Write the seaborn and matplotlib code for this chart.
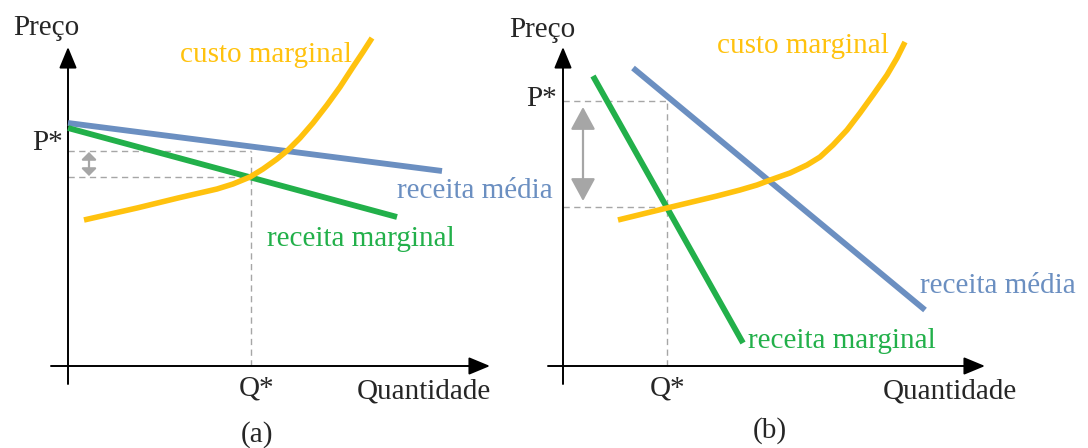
import matplotlib
matplotlib.use("Agg")
import matplotlib.pyplot as plt
import seaborn as sns
import pandas as pd

sns.set_theme(style="white")
plt.rcParams["font.family"] = ["Liberation Serif", "DejaVu Serif"]

# ---- colours ----
BLUE = "#6b8fc1"
GREEN = "#22b04a"
YELLOW = "#ffc20e"
GRAY = "#a6a6a6"

# ---- panel (a): nearly flat demand ----
a_media_q = [0.0, 37.4]
a_media_p = [24.3, 19.5]
a_marg_q = [0.0, 32.9]
a_marg_p = [23.8, 14.9]
a_custo_q = [1.6, 6.9, 11.0, 14.9, 16.5, 18.2, 19.5, 20.9, 22.0, 23.2,
             24.5, 25.9, 27.2, 28.5, 29.5, 30.4]
a_custo_p = [14.6, 15.8, 16.8, 17.7, 18.2, 18.9, 19.7, 20.7, 21.6, 22.8,
             24.3, 26.1, 27.9, 29.9, 31.4, 32.8]
a_qstar = 18.3
a_pstar = 21.5
a_cm_at_q = 18.9

# ---- panel (b): steep demand ----
b_media_q = [7.0, 36.2]
b_media_p = [29.8, 5.6]
b_marg_q = [3.0, 18.0]
b_marg_p = [29.0, 2.3]
b_custo_q = [5.5, 10.4, 15.4, 17.7, 19.4, 21.0, 22.7, 24.4, 25.7, 27.0,
             28.4, 29.7, 31.0, 32.4, 33.4, 34.2]
b_custo_p = [14.6, 15.8, 17.0, 17.6, 18.1, 18.7, 19.3, 20.1, 20.9, 22.1,
             23.6, 25.3, 27.1, 29.1, 30.8, 32.4]
b_qstar = 10.4
b_pstar = 26.5
b_cm_at_q = 15.9

FS = 21

fig = plt.figure(figsize=(10.88, 4.48), dpi=100)
ax_a = fig.add_axes([0.0, 0.0, 0.5, 1.0])
ax_b = fig.add_axes([0.5, 0.0, 0.5, 1.0])
ax_a.set_xlim(-6.8, 47.6)
ax_b.set_xlim(-1.9, 52.5)
for ax in (ax_a, ax_b):
    ax.set_ylim(-8.2, 36.6)
    ax.set_axis_off()


def draw_axes(ax, x0, x1, y0, y1):
    style = "-|>,head_length=0.65,head_width=0.27"
    ax.annotate("", xy=(x1, 0), xytext=(x0, 0),
                arrowprops=dict(arrowstyle=style, color="black", lw=1.4,
                                mutation_scale=20, shrinkA=0, shrinkB=0))
    ax.annotate("", xy=(0, y1), xytext=(0, y0),
                arrowprops=dict(arrowstyle=style, color="black", lw=1.4,
                                mutation_scale=20, shrinkA=0, shrinkB=0))


def guides(ax, q, p_hi, p_lo, xa, ya_hi, ya_lo, head):
    kw = dict(color=GRAY, lw=1.0, ls=(0, (4.5, 3.2)), zorder=1)
    ax.plot([0, q], [p_hi, p_hi], **kw)
    ax.plot([0, q], [p_lo, p_lo], **kw)
    ax.plot([q, q], [0, p_hi], **kw)
    hl, hw = head
    ax.annotate("", xy=(xa, ya_lo), xytext=(xa, ya_hi),
                arrowprops=dict(arrowstyle=f"<|-|>,head_length={hl},head_width={hw}",
                                color=GRAY, lw=1.6, mutation_scale=20,
                                shrinkA=0, shrinkB=0))


def curve(ax, q, p, color, lw=4.2):
    df = pd.DataFrame({"q": q, "p": p})
    sns.lineplot(data=df, x="q", y="p", ax=ax, color=color, lw=lw,
                 sort=False, estimator=None, zorder=3,
                 solid_joinstyle="round", solid_capstyle="butt")


# panel (a)
draw_axes(ax_a, -1.7, 42.2, -1.8, 31.9)
guides(ax_a, a_qstar, a_pstar, a_cm_at_q, 2.1, 21.4, 19.0, (0.22, 0.22))
curve(ax_a, a_media_q, a_media_p, BLUE)
curve(ax_a, a_marg_q, a_marg_p, GREEN)
curve(ax_a, a_custo_q, a_custo_p, YELLOW, lw=4.0)
ax_a.text(-2.2, 33.8, "Preço", fontsize=FS, ha="center", va="center")
ax_a.text(-0.5, 21.6, "P*", fontsize=FS, ha="right", va="baseline")
ax_a.text(11.2, 30.4, "custo marginal", fontsize=FS, color=YELLOW, va="baseline")
ax_a.text(32.9, 16.8, "receita média", fontsize=FS, color=BLUE, va="baseline")
ax_a.text(19.9, 12.0, "receita marginal", fontsize=FS, color=GREEN, va="baseline")
ax_a.text(18.9, -2.9, "Q*", fontsize=FS, ha="center", va="baseline")
ax_a.text(28.9, -3.2, "Quantidade", fontsize=FS, va="baseline")
ax_a.text(18.9, -6.9, "(a)", fontsize=FS, ha="center", va="center")

# panel (b)
draw_axes(ax_b, -1.5, 42.2, -1.8, 31.9)
guides(ax_b, b_qstar, b_pstar, b_cm_at_q, 2.0, 25.9, 16.5, (0.7, 0.38))
curve(ax_b, b_media_q, b_media_p, BLUE)
curve(ax_b, b_marg_q, b_marg_p, GREEN)
curve(ax_b, b_custo_q, b_custo_p, YELLOW, lw=4.0)
ax_b.text(-2.1, 33.6, "Preço", fontsize=FS, ha="center", va="center")
ax_b.text(-0.6, 26.0, "P*", fontsize=FS, ha="right", va="baseline")
ax_b.text(15.4, 31.3, "custo marginal", fontsize=FS, color=YELLOW, va="baseline")
ax_b.text(35.7, 7.3, "receita média", fontsize=FS, color=BLUE, va="baseline")
ax_b.text(18.5, 1.8, "receita marginal", fontsize=FS, color=GREEN, va="baseline")
ax_b.text(10.5, -2.9, "Q*", fontsize=FS, ha="center", va="baseline")
ax_b.text(32.0, -3.2, "Quantidade", fontsize=FS, va="baseline")
ax_b.text(20.7, -6.5, "(b)", fontsize=FS, ha="center", va="center")

fig.savefig("out.png", dpi=100, facecolor="white")
